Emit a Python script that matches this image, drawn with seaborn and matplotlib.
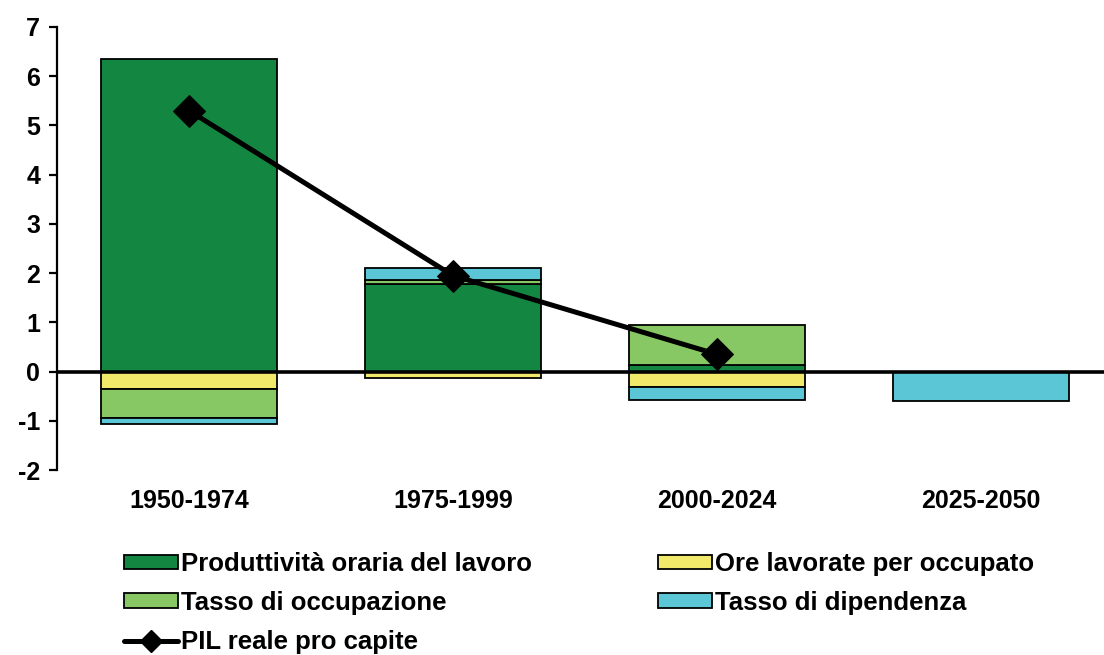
import matplotlib
matplotlib.use("Agg")
import matplotlib.pyplot as plt
import seaborn as sns
import numpy as np
import pandas as pd
from matplotlib.lines import Line2D
from matplotlib.patches import Patch

periods = ["1950-1974", "1975-1999", "2000-2024", "2025-2050"]
produttivita = [6.36, 1.77, 0.14, 0.0]
ore_lavorate = [-0.35, -0.14, -0.32, 0.0]
tasso_occupazione = [-0.60, 0.10, 0.80, 0.0]
tasso_dipendenza = [-0.12, 0.24, -0.25, -0.60]
pil_pro_capite = [5.30, 1.95, 0.35]

series_names = ["Produttività oraria del lavoro", "Ore lavorate per occupato",
                "Tasso di occupazione", "Tasso di dipendenza"]
series_vals = [produttivita, ore_lavorate, tasso_occupazione, tasso_dipendenza]
colors = ["#138741", "#F0E96A", "#88C864", "#5BC6D6"]

sns.set_style("white")
plt.rcParams["font.family"] = ["Liberation Sans", "DejaVu Sans"]
plt.rcParams["font.weight"] = "bold"
plt.rcParams["axes.unicode_minus"] = False
plt.rcParams["text.color"] = "black"
plt.rcParams["xtick.color"] = "black"
plt.rcParams["ytick.color"] = "black"
plt.rcParams["xtick.labelcolor"] = "black"
plt.rcParams["ytick.labelcolor"] = "black"

fig = plt.figure(figsize=(11.04, 6.55), dpi=100)
ax = fig.add_axes([57 / 1104, 185 / 655, 1056 / 1104, 443 / 655])

pos_base = np.zeros(len(periods))
neg_base = np.zeros(len(periods))
for name, vals, col in zip(series_names, series_vals, colors):
    v = np.array(vals, dtype=float)
    bottoms = np.where(v >= 0, pos_base, neg_base)
    df = pd.DataFrame({"periodo": periods, "valore": v})
    sns.barplot(data=df, x="periodo", y="valore", order=periods, color=col,
                bottom=bottoms, width=0.665, edgecolor="black", linewidth=1.3,
                saturation=1, ax=ax, errorbar=None)
    pos_base = pos_base + np.where(v > 0, v, 0)
    neg_base = neg_base + np.where(v < 0, v, 0)

sns.lineplot(x=np.arange(len(pil_pro_capite)), y=pil_pro_capite, color="black",
             linewidth=3.6, marker="D", markersize=16, markeredgecolor="black",
             ax=ax, zorder=5, legend=False)

ax.axhline(0, color="black", linewidth=2.6, zorder=4)
ax.set_xlim(-0.5, 3.5)
ax.set_ylim(-2, 7)
ax.set_yticks(range(-2, 8))
ax.set_xlabel("")
ax.set_ylabel("")
for s in ["top", "right", "bottom"]:
    ax.spines[s].set_visible(False)
ax.spines["left"].set_linewidth(1.6)
ax.spines["left"].set_color("black")
ax.tick_params(axis="y", direction="out", length=6, width=1.6, labelsize=18, pad=6,
               left=True, colors="black")
ax.tick_params(axis="x", length=0, labelsize=18, pad=14, colors="black")
for lab in ax.get_xticklabels() + ax.get_yticklabels():
    lab.set_fontweight("bold")
    lab.set_color("black")

handles = [
    Patch(facecolor=colors[0], edgecolor="black", linewidth=1.3, label=series_names[0]),
    Patch(facecolor=colors[2], edgecolor="black", linewidth=1.3, label=series_names[2]),
    Line2D([0], [0], color="black", linewidth=3.6, marker="D", markersize=11,
           label="PIL reale pro capite"),
    Patch(facecolor=colors[1], edgecolor="black", linewidth=1.3, label=series_names[1]),
    Patch(facecolor=colors[3], edgecolor="black", linewidth=1.3, label=series_names[3]),
]
leg = fig.legend(handles=handles, ncol=2, loc="upper left",
                 bbox_to_anchor=(124 / 1104, 1 - 552 / 655), frameon=False,
                 prop={"size": 18.5, "weight": "bold"}, handlelength=2.1,
                 handleheight=0.5, handletextpad=0.12, labelspacing=0.58,
                 columnspacing=4.9, borderpad=0, borderaxespad=0)
for t in leg.get_texts():
    t.set_color("black")

fig.savefig("out.png", dpi=100)
